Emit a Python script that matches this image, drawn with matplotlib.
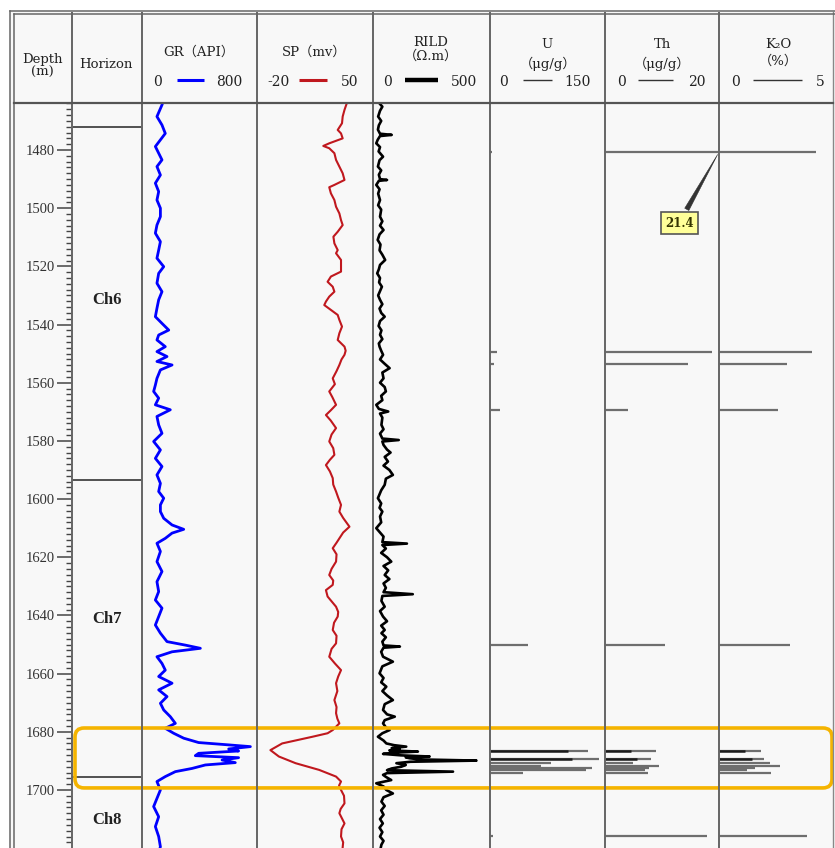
import matplotlib
matplotlib.use('Agg')
import matplotlib.pyplot as plt
from matplotlib.patches import FancyBboxPatch, Rectangle
from matplotlib.ticker import MultipleLocator

# ---------------- data ----------------
depth_range = [1463.84, 1719.95]
horizon_names = ['Ch6', 'Ch7', 'Ch8']
horizon_label_depths = [1531.6, 1641.2, 1710.3]
horizon_boundaries = [1472.1, 1593.4, 1695.5]
highlight_interval = [1678.7, 1699.3]

gr_depth = [1462.8, 1464.5, 1468.5, 1471.4, 1474.3, 1478.8, 1483.4, 1485.7, 1488.6, 1491.4,
            1494.3, 1497.2, 1500.0, 1502.9, 1505.8, 1508.6, 1511.5, 1514.4, 1517.2, 1520.1,
            1522.4, 1525.8, 1528.7, 1531.5, 1534.4, 1537.3, 1539.6, 1541.9, 1543.6, 1545.3,
            1547.6,
            1549.3, 1551.0, 1552.7, 1553.9, 1555.6, 1558.5, 1560.8, 1563.0, 1565.3, 1567.6,
            1569.3, 1571.6, 1574.5, 1577.4, 1580.2, 1583.1, 1586.0, 1588.8, 1591.7, 1594.6,
            1597.4, 1599.7, 1602.0, 1604.3, 1606.6, 1608.9, 1610.4, 1611.7, 1613.5, 1615.2,
            1618.0, 1621.5, 1624.9, 1628.4, 1631.8,
            1634.7, 1637.5, 1640.4, 1643.3, 1646.1, 1649.0, 1650.2, 1651.3, 1652.5, 1654.2,
            1656.5, 1658.8, 1661.0, 1663.3, 1665.6, 1667.9, 1670.2, 1672.5, 1674.8, 1677.1,
            1678.8, 1680.5, 1682.2, 1683.7, 1684.5, 1685.1, 1685.9, 1686.6, 1687.4, 1688.2,
            1688.9, 1689.7, 1690.6, 1691.4, 1692.6, 1693.7, 1695.4, 1697.1, 1700.0, 1702.9,
            1705.7, 1709.2, 1712.6, 1716.0, 1719.5, 1721.0]
gr_value = [151, 139, 104, 139, 162, 93, 139, 104, 128, 93,
            116, 104, 128, 128, 104, 93, 128, 116, 104, 151,
            116, 104, 139, 116, 104, 93, 139, 186, 116, 104,
            162,
            104, 174, 104, 209, 128, 104, 93, 81, 116, 93,
            197, 104, 116, 139, 81, 128, 93, 139, 104, 128,
            116, 151, 128, 128, 151, 209, 290, 209, 162, 104,
            128, 104, 139, 104, 116,
            93, 139, 116, 93, 128, 174, 301, 406, 209, 104,
            139, 162, 116, 209, 116, 174, 128, 151, 197, 232,
            162, 220, 290, 394, 603, 754, 603, 672, 394, 371,
            672, 557, 649, 441, 348, 232, 162, 104, 128, 104,
            81, 116, 93, 116, 128, 120]

sp_depth = [1462.8, 1463.9, 1466.2, 1468.5, 1470.8, 1473.1, 1474.3, 1476.0, 1477.7, 1478.6,
            1479.4, 1481.1, 1483.4, 1485.7, 1488.0, 1490.3, 1492.0, 1492.8, 1494.9, 1497.2,
            1499.5, 1501.8, 1504.1, 1505.8, 1508.1, 1509.8, 1512.1, 1514.4, 1515.5, 1517.8,
            1520.1, 1521.8, 1523.5, 1525.3, 1527.0, 1528.7, 1530.4, 1532.1, 1533.3, 1535.0,
            1536.7, 1538.4, 1540.7, 1543.0, 1545.3, 1547.6,
            1549.0, 1550.4, 1552.0, 1553.9, 1556.0, 1558.5, 1560.5, 1563.0, 1565.0, 1567.6,
            1569.5, 1571.1, 1573.0, 1575.6, 1577.8, 1580.2, 1582.5, 1584.8, 1586.5, 1588.3,
            1590.5, 1592.8, 1595.0, 1597.4, 1599.5, 1602.0, 1604.3, 1606.5, 1609.5, 1611.5,
            1613.5, 1615.0, 1616.9, 1619.0, 1621.5, 1624.0, 1626.1, 1628.0, 1629.5,
            1631.3, 1633.5, 1635.5, 1637.0, 1638.8, 1640.4, 1642.5, 1645.0, 1647.0, 1649.6,
            1651.5, 1654.2, 1656.5, 1658.8, 1661.0, 1663.3, 1666.0, 1669.1, 1671.5, 1673.6,
            1675.5, 1677.1, 1679.4, 1680.5, 1681.7, 1684.0, 1686.3, 1688.5, 1690.8, 1693.1,
            1695.4, 1697.1, 1698.5, 1700.0, 1702.0, 1704.6, 1706.5, 1708.0, 1710.0, 1711.5,
            1713.5, 1716.0, 1718.0, 1719.5, 1721.0]
sp_value = [34.8, 34.2, 32.8, 31.7, 31.3, 28.7, 30.7, 31.7, 23.6, 20.0,
            23.6, 26.7, 27.7, 29.7, 31.7, 32.8, 26.7, 23.6, 24.6, 26.7,
            27.7, 29.7, 30.7, 31.7, 28.7, 26.1, 26.7, 28.7, 27.7, 30.7,
            30.7, 30.7, 24.6, 22.6, 25.7, 26.7, 23.6, 21.6, 20.6, 24.6,
            28.7, 29.7, 31.3, 29.7, 28.7, 32.8,
            33.5, 32.8, 31.0, 29.7, 28.0, 25.7, 27.0, 23.6, 25.5, 27.7,
            24.5, 21.6, 24.5, 27.7, 25.0, 23.6, 26.0, 26.7, 24.0, 21.6,
            24.0, 25.7, 26.0, 27.7, 29.0, 30.7, 29.7, 32.0, 35.8, 32.0,
            29.7, 28.0, 25.7, 28.0, 27.7, 25.0, 23.6, 26.0, 25.7,
            21.6, 22.6, 25.5, 27.7, 29.0, 28.7, 26.5, 25.7, 28.0, 27.7,
            25.0, 23.6, 27.0, 30.7, 29.0, 27.7, 28.5, 26.7, 28.0, 27.7,
            28.5, 29.7, 25.7, 22.6, 13.5, -4.8, -11.9, -6.8, 3.3, 17.5,
            27.7, 30.7, 29.5, 30.7, 32.5, 32.8, 30.5, 29.7, 31.5, 32.8,
            31.0, 30.7, 32.0, 31.7, 31.5]

rild_depth = [1462.8, 1464.0, 1465.1, 1466.5, 1468.5, 1470.0, 1471.5, 1473.0, 1474.4, 1474.8,
              1475.2, 1476.5, 1477.7, 1479.0, 1480.5, 1482.3, 1483.5, 1485.7, 1487.0, 1488.5,
              1490.0, 1490.3, 1490.6, 1492.0, 1493.5, 1495.0, 1497.2, 1499.0, 1500.5, 1502.9,
              1504.5, 1506.0, 1507.5, 1509.0, 1510.9, 1512.5, 1514.5, 1516.0, 1517.8, 1519.5,
              1521.0, 1522.4, 1524.0, 1525.5, 1527.0, 1528.5, 1530.0, 1531.5, 1533.0, 1534.5,
              1536.0, 1537.3, 1538.8, 1540.5, 1542.0, 1543.5, 1545.0, 1546.5, 1547.6,
              1549.0, 1550.4, 1552.0, 1553.5, 1555.0, 1556.5, 1558.5, 1560.0, 1561.5, 1563.0,
              1564.5, 1566.0, 1567.6, 1569.0, 1569.9, 1570.6, 1572.0, 1574.5, 1576.0, 1577.5,
              1579.2, 1579.7, 1580.2, 1581.4, 1583.0, 1584.0, 1585.5, 1587.1, 1588.5, 1590.0,
              1591.7, 1593.0, 1595.1, 1597.0, 1599.7, 1601.5, 1603.0, 1604.3, 1606.0, 1608.0,
              1610.0, 1611.5, 1612.9, 1614.8, 1615.3, 1615.8, 1617.0, 1618.5, 1620.0, 1621.5,
              1623.0, 1624.5, 1626.1, 1627.5, 1629.0, 1630.5, 1632.0, 1632.7, 1633.3, 1635.0,
              1637.0, 1638.5, 1640.4, 1642.0, 1643.5, 1645.0, 1646.1, 1647.5, 1649.0, 1650.3,
              1650.7, 1651.1, 1652.5, 1654.2, 1655.9, 1657.5, 1659.9, 1661.5, 1663.0, 1664.5,
              1666.0, 1667.5, 1669.1, 1670.5, 1672.5, 1674.0, 1674.8, 1676.0, 1677.1, 1678.5,
              1679.4, 1680.5, 1681.7, 1683.0, 1684.0, 1684.6, 1685.1, 1685.6, 1686.0, 1686.4,
              1686.8, 1687.2, 1687.6, 1688.1, 1688.5, 1688.8, 1689.1, 1689.5, 1689.9, 1690.3,
              1690.8, 1691.4, 1692.0, 1692.6, 1693.2, 1693.7, 1694.2, 1694.8, 1695.5, 1696.6,
              1697.7, 1698.8, 1700.0, 1701.2, 1702.5, 1704.0, 1705.5, 1707.0, 1708.5, 1710.0,
              1711.5, 1713.0, 1714.5, 1716.0, 1717.5, 1718.8, 1721.0]
rild_value = [36, 28, 40, 30, 22, 35, 25, 21, 30, 80,
              30, 20, 14, 30, 24, 43, 28, 21, 35, 25,
              30, 60, 25, 14, 28, 22, 30, 22, 35, 30,
              40, 30, 45, 28, 20, 32, 28, 40, 52, 30,
              25, 18, 30, 26, 38, 30, 22, 30, 40, 28,
              35, 50, 30, 24, 36, 30, 40, 25, 28,
              35, 43, 30, 50, 71, 40, 45, 30, 50, 55,
              35, 40, 14, 25, 65, 30, 40, 36, 45, 30,
              40, 110, 40, 45, 60, 75, 50, 64, 45, 70,
              85, 55, 50, 35, 21, 35, 28, 40, 30, 35,
              14, 30, 45, 40, 145, 40, 55, 35, 60, 78,
              45, 65, 50, 70, 45, 55, 45, 170, 40, 36,
              50, 30, 43, 60, 35, 50, 36, 55, 40, 45,
              115, 45, 35, 43, 85, 40, 28, 45, 35, 57,
              40, 60, 85, 50, 43, 60, 93, 50, 43, 55,
              71, 40, 21, 45, 57, 90, 142, 80, 114, 70,
              192, 90, 43, 120, 242, 140, 157, 200, 442, 160,
              100, 140, 121, 80, 60, 342, 60, 43, 55, 78,
              14, 45, 57, 85, 45, 36, 50, 35, 45, 30,
              42, 28, 40, 30, 45, 36, 30]

# geochemical sample bars (depth, U, Th, K2O)
sample_depth = [1480.7, 1549.5, 1553.6, 1569.4, 1650.3, 1686.6, 1689.4, 1690.8, 1691.8,
                1692.5, 1693.1, 1694.1, 1715.8]
u_value = [3, 9, 5, 13, 50, 128, 142, 80, 66, 133, 125, 43, 4]
th_value = [21.4, 18.8, 14.6, 4.0, 10.6, 9.0, 8.0, 4.9, 9.4, 7.7, 7.1, 7.5, 17.9]
k2o_value = [4.25, 4.08, 2.98, 2.59, 3.1, 1.84, 1.97, 2.24, 2.68, 1.58, 1.23, 2.28, 3.86]
# overlapping darker records
dark_depth = [1686.6, 1689.4]
dark_u = [102, 107]
dark_th = [4.5, 5.7]
dark_k2o = [1.14, 1.45]
annot_value = '21.4'

# ---------------- layout ----------------
W, H = 835, 848
col_edges = [10, 72, 142, 257, 373, 490, 605, 719, 833]
header_top, header_bot = 12, 103

fig = plt.figure(figsize=(W / 100, H / 100), dpi=100, facecolor='white')
SERIF = ['DejaVu Serif', 'Noto Sans CJK SC']
TIMES = ['Liberation Serif', 'DejaVu Serif']


def px_axes(x0, x1, y0, y1, z=1):
    return fig.add_axes([x0 / W, 1 - y1 / H, (x1 - x0) / W, (y1 - y0) / H], zorder=z)


bg = px_axes(0, W, 0, H, z=-5)
bg.set_xlim(0, W); bg.set_ylim(H, 0); bg.axis('off')
bg.add_patch(Rectangle((10, 12), W - 10, H - 12, fc='#f8f8f8', ec='none'))


def track(i, xlim):
    ax = px_axes(col_edges[i], col_edges[i + 1], header_bot, H)
    ax.set_facecolor('none')
    ax.set_xlim(*xlim)
    ax.set_ylim(depth_range[1], depth_range[0])
    for s in ax.spines.values():
        s.set_visible(False)
    ax.set_xticks([])
    ax.set_yticks([])
    return ax


ax_h = track(1, (0, 1))
ax_gr = track(2, (0, 800))
ax_sp = track(3, (-20, 50))
ax_rd = track(4, (0, 500))
ax_u = track(5, (0, 150))
ax_th = track(6, (0, 20))
ax_k = track(7, (0, 5))

# depth ticks (on left edge of horizon track)
ax_h.yaxis.set_major_locator(MultipleLocator(20))
ax_h.yaxis.set_minor_locator(MultipleLocator(2))
ax_h.tick_params(axis='y', which='major', direction='out', length=11, width=1.1,
                 color='#444444', pad=1.5, labelsize=10.5, labelcolor='#333333')
ax_h.tick_params(axis='y', which='minor', direction='out', length=4.2, width=1.0,
                 color='#444444')
for lab in ax_h.get_yticklabels():
    lab.set_fontfamily(TIMES)

for d in horizon_boundaries:
    ax_h.axhline(d, color='#444444', lw=1.3)
for name, d in zip(horizon_names, horizon_label_depths):
    ax_h.text(0.5, d, name, ha='center', va='center', fontsize=12, fontweight='bold',
              family=TIMES, color='#222222')

ax_gr.plot(gr_value, gr_depth, color='#0000ff', lw=2.0, solid_joinstyle='round')
ax_sp.plot(sp_value, sp_depth, color='#c0181e', lw=1.5, solid_joinstyle='round')
ax_rd.plot(rild_value, rild_depth, color='#000000', lw=1.9, solid_joinstyle='round')

for ax, vals, dvals in [(ax_u, u_value, dark_u), (ax_th, th_value, dark_th),
                        (ax_k, k2o_value, dark_k2o)]:
    ax.hlines(sample_depth, 0, vals, color='#6e6e6e', lw=1.6)
    ax.hlines(dark_depth, 0, dvals, color='#1a1a1a', lw=1.8)

ax_th.annotate(annot_value, xy=(20, sample_depth[0]), xytext=(13.0, 1505.1),
               ha='center', va='center', fontsize=8.5, fontweight='bold', family=SERIF,
               color='#333300',
               bbox=dict(boxstyle='square,pad=0.35', fc='#ffff99', ec='#555555', lw=1.2),
               arrowprops=dict(arrowstyle='wedge,tail_width=0.4,shrink_factor=0.5',
                               fc='#333333', ec='#333333', lw=0.4),
               annotation_clip=False)

# ---------------- overlay: frame, header ----------------
ov = px_axes(0, W, 0, H, z=20)
ov.set_xlim(0, W); ov.set_ylim(H, 0); ov.axis('off'); ov.patch.set_alpha(0)

for x in col_edges[1:-1]:
    ov.plot([x, x], [header_top, H], color='#666666', lw=1.4, solid_capstyle='butt')
ov.plot([9.5, 9.5], [10.5, H], color='#666666', lw=1.1)
ov.plot([13.5, 13.5], [14, H], color='#666666', lw=1.1)
ov.plot([833, 833], [12, H], color='#888888', lw=1.0)
ov.plot([9.5, W], [10.5, 10.5], color='#666666', lw=1.1)
ov.plot([13.5, W], [14, 14], color='#666666', lw=1.1)
ov.plot([13.5, 833], [header_bot, header_bot], color='#555555', lw=1.6)

hdr = dict(ha='center', va='center', family=SERIF, color='#222222', fontsize=9.5)
ov.text(42, 59, 'Depth', **hdr)
ov.text(42, 72, '(m)', **hdr)
ov.text(106, 64, 'Horizon', **hdr)
ov.text(199, 52, 'GR（API）', **hdr)
ov.text(314, 52, 'SP（mv）', **hdr)
ov.text(431, 42, 'RILD', **hdr)
ov.text(431, 56, '（Ω.m）', **hdr)
ov.text(547, 45, 'U', **hdr)
ov.text(548, 64, '（μg/g）', **hdr)
ov.text(662, 45, 'Th', **hdr)
ov.text(662, 64, '（μg/g）', **hdr)
ov.text(778, 45, 'K₂O', **hdr)
ov.text(778, 61, '（%）', **hdr)

scale = dict(ha='center', va='center', family=SERIF, color='#222222', fontsize=10)
scale_items = [
    (157, '0', 229, '800', (177, 204), '#0000ff', 2.2),
    (278, '-20', 350, '50', (299, 327), '#c0181e', 2.2),
    (388, '0', 464, '500', (405, 438), '#000000', 3.2),
    (503, '0', 578, '150', (523, 552), '#333333', 1.0),
    (621, '0', 697, '20', (638, 673), '#333333', 1.0),
    (735, '0', 820, '5', (753, 802), '#333333', 1.0),
]
for xl, tl, xr, tr, (l0, l1), c, lw in scale_items:
    ov.text(xl, 82, tl, **scale)
    ov.text(xr, 82, tr, **scale)
    ov.plot([l0, l1], [80, 80], color=c, lw=lw, solid_capstyle='butt')

# highlight box (depth interval mapped to pixels)
ytop = H - ax_gr.transData.transform((0, highlight_interval[0]))[1]
ybot = H - ax_gr.transData.transform((0, highlight_interval[1]))[1]
ov.add_patch(FancyBboxPatch((75, ytop), 832 - 75, ybot - ytop,
                            boxstyle='round,pad=0,rounding_size=9',
                            ec='#f5b400', fc='none', lw=2.6))

fig.savefig('out.png', dpi=100, facecolor='white')
